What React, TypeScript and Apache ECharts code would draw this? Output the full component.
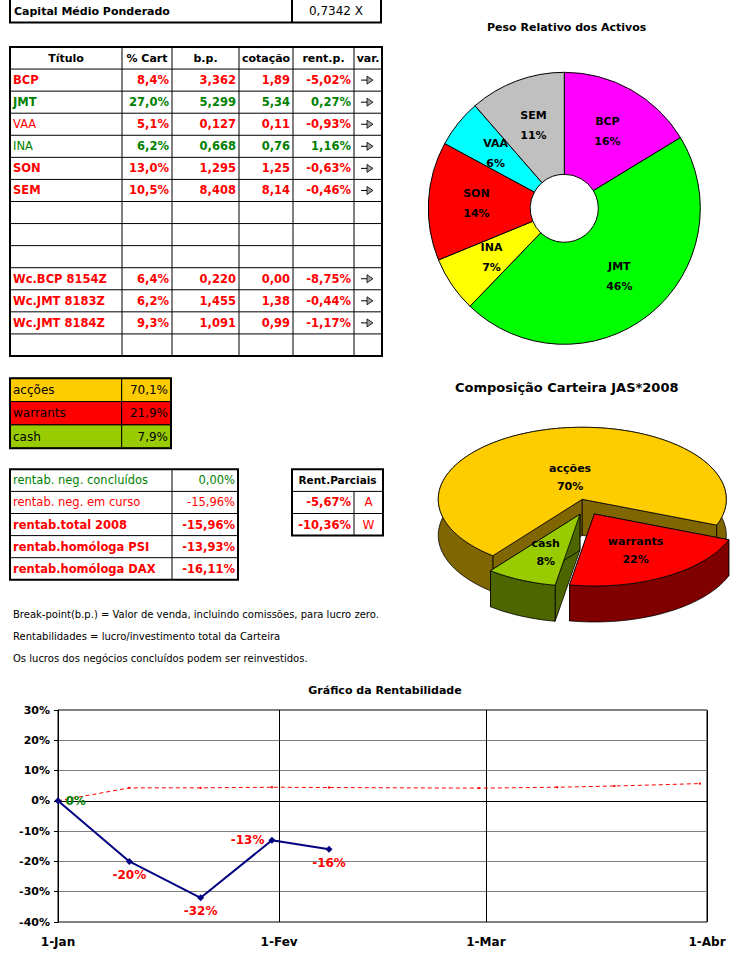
import React, { useEffect, useRef } from 'react';
import * as echarts from 'echarts';

const FONT = "'Comic Sans MS', 'DejaVu Sans', sans-serif";

// ---- Header box ----
const capitalLabel = 'Capital Médio Ponderado';
const capitalValue = '0,7342 X';

// ---- Main table ----
const tableHeaders = ['Título', '% Cart', 'b.p.', 'cotação', 'rent.p.', 'var.'];
const titles = ['BCP', 'JMT', 'VAA', 'INA', 'SON', 'SEM', '', '', '', 'Wc.BCP 8154Z', 'Wc.JMT 8183Z', 'Wc.JMT 8184Z', ''];
const pctCart = [8.4, 27.0, 5.1, 6.2, 13.0, 10.5, null, null, null, 6.4, 6.2, 9.3, null];
const breakPoints = [3.362, 5.299, 0.127, 0.668, 1.295, 8.408, null, null, null, 0.22, 1.455, 1.091, null];
const cotacoes = [1.89, 5.34, 0.11, 0.76, 1.25, 8.14, null, null, null, 0.0, 1.38, 0.99, null];
const rentP = [-5.02, 0.27, -0.93, 1.16, -0.63, -0.46, null, null, null, -8.75, -0.44, -1.17, null];

// ---- Composition ----
const compNames = ['acções', 'warrants', 'cash'];
const compValues = [70.1, 21.9, 7.9];
const compColors = ['#FFCC00', '#FF0000', '#99CC00'];
const compSideColors = ['#806600', '#800000', '#4D6600'];

// ---- Rentab ----
const rentLabels = ['rentab. neg. concluídos', 'rentab. neg. em curso', 'rentab.total 2008', 'rentab.homóloga PSI', 'rentab.homóloga DAX'];
const rentValues = [0.0, -15.96, -15.96, -13.93, -16.11];
const rentBold = [false, false, true, true, true];

const parciaisTitle = 'Rent.Parciais';
const parciaisValues = [-5.67, -10.36];
const parciaisTags = ['A', 'W'];

const notes = [
  'Break-point(b.p.) = Valor de venda, incluindo comissões, para lucro zero.',
  'Rentabilidades = lucro/investimento total da Carteira',
  'Os lucros dos negócios concluídos podem ser reinvestidos.',
];

// ---- Donut ----
const pieNames = ['BCP', 'JMT', 'INA', 'SON', 'VAA', 'SEM'];
const pieValues = [16.3, 45.9, 6.6, 14.1, 5.7, 11.4];
const pieColors = ['#FF00FF', '#00FF00', '#FFFF00', '#FF0000', '#00FFFF', '#C0C0C0'];

// ---- Line chart ----
const rentDates = ['2008-01-01', '2008-01-11', '2008-01-21', '2008-01-31', '2008-02-08'];
const rentSeries = [0, -0.2, -0.32, -0.13, -0.16];
const rentLabelPos = ['right', 'bottom', 'bottom', 'left', 'bottom'];
const benchDates = ['2008-01-01', '2008-01-11', '2008-01-21', '2008-01-31', '2008-02-08', '2008-02-29', '2008-03-11', '2008-03-19', '2008-03-31'];
const benchValues = [0, 0.043, 0.043, 0.045, 0.044, 0.042, 0.045, 0.049, 0.057];
const monthLabels = ['Jan', 'Fev', 'Mar', 'Abr', 'Mai', 'Jun', 'Jul', 'Ago', 'Set', 'Out', 'Nov', 'Dez'];

const fmt = (v: number, d: number) => v.toFixed(d).replace('.', ',');

function txt(x: number, y: number, text: string, fill: string, size: number, bold: boolean, align = 'left') {
  return {
    type: 'text',
    x,
    y,
    silent: true,
    style: { text, fill, fontSize: size, fontWeight: bold ? 'bold' : 'normal', fontFamily: FONT, align, verticalAlign: 'middle' },
  };
}
function rect(x: number, y: number, w: number, h: number, fill: string | null, lw: number) {
  return {
    type: 'rect',
    silent: true,
    shape: { x, y, width: w, height: h },
    style: { fill: fill || 'none', stroke: '#000', lineWidth: lw },
  };
}
function ln(x1: number, y1: number, x2: number, y2: number, lw = 1) {
  return { type: 'line', silent: true, shape: { x1, y1, x2, y2 }, style: { stroke: '#000', lineWidth: lw } };
}
function arrow(cx: number, cy: number) {
  return {
    type: 'group',
    x: cx,
    y: cy,
    silent: true,
    children: [
      { type: 'line', shape: { x1: -6, y1: 0, x2: 0, y2: 0 }, style: { stroke: '#000', lineWidth: 1 } },
      { type: 'polygon', shape: { points: [[0, -4], [6, 0], [0, 4]] }, style: { fill: '#A0A0A0', stroke: '#000', lineWidth: 0.8 } },
    ],
  };
}

function buildGraphics() {
  const g: any[] = [];
  // Capital box
  g.push(rect(10, -2, 371, 24.5, null, 2));
  g.push(ln(292, 0, 292, 22.5, 2));
  g.push(txt(14, 11, capitalLabel, '#000', 11, true));
  g.push(txt(336, 11, capitalValue, '#000', 12, false, 'center'));

  // Main table
  const colX = [10, 122, 172, 239, 293, 354, 382];
  const top = 47;
  const rowH = 22.07;
  const nRows = titles.length + 1;
  for (let c = 1; c < colX.length - 1; c++) g.push(ln(colX[c], top, colX[c], top + nRows * rowH));
  for (let r = 1; r < nRows; r++) g.push(ln(colX[0], top + r * rowH, colX[6], top + r * rowH));
  g.push(rect(colX[0], top, colX[6] - colX[0], nRows * rowH, null, 2));
  tableHeaders.forEach((h, c) => {
    g.push(txt((colX[c] + colX[c + 1]) / 2, top + rowH / 2, h, '#000', 11, true, 'center'));
  });
  titles.forEach((t, r) => {
    const cy = top + (r + 1) * rowH + rowH / 2;
    if (rentP[r] === null) return;
    const col = (rentP[r] as number) >= 0 ? '#008000' : '#FF0000';
    const boldName = !(t === 'VAA' || t === 'INA');
    g.push(txt(colX[0] + 3, cy, t, col, 11.5, boldName));
    g.push(txt(colX[2] - 3, cy, fmt(pctCart[r] as number, 1) + '%', col, 11.5, true, 'right'));
    g.push(txt(colX[3] - 3, cy, fmt(breakPoints[r] as number, 3), col, 11.5, true, 'right'));
    g.push(txt(colX[4] - 3, cy, fmt(cotacoes[r] as number, 2), col, 11.5, true, 'right'));
    g.push(txt(colX[5] - 3, cy, fmt(rentP[r] as number, 2) + '%', col, 11.5, true, 'right'));
    g.push(arrow(367, cy));
  });

  // Composition box
  const cTop = 378.3;
  const cRow = 23.3;
  compNames.forEach((n, i) => {
    g.push(rect(10, cTop + i * cRow, 111.7, cRow, compColors[i], 1));
    g.push(rect(121.7, cTop + i * cRow, 49.3, cRow, compColors[i], 1));
    g.push(txt(13, cTop + i * cRow + cRow / 2, n, '#000', 12, false));
    g.push(txt(168, cTop + i * cRow + cRow / 2, fmt(compValues[i], 1) + '%', '#000', 12, false, 'right'));
  });
  g.push(rect(10, cTop, 161, 3 * cRow, null, 2));

  // Rentab box
  const rTop = 469.3;
  const rRow = 22.1;
  for (let r = 1; r < rentLabels.length; r++) g.push(ln(10, rTop + r * rRow, 238, rTop + r * rRow));
  g.push(ln(172, rTop, 172, rTop + rentLabels.length * rRow));
  g.push(rect(10, rTop, 228, rentLabels.length * rRow, null, 2));
  rentLabels.forEach((l, r) => {
    const cy = rTop + r * rRow + rRow / 2;
    const col = rentValues[r] >= 0 ? '#008000' : '#FF0000';
    g.push(txt(13, cy, l, col, rentBold[r] ? 11.5 : 11.5, rentBold[r]));
    g.push(txt(235, cy, fmt(rentValues[r], 2) + '%', col, 11.5, rentBold[r], 'right'));
  });

  // Parciais box
  const pX0 = 292;
  const pX1 = 354;
  const pX2 = 383;
  for (let r = 1; r < 3; r++) g.push(ln(pX0, rTop + r * rRow, pX2, rTop + r * rRow));
  g.push(ln(pX1, rTop + rRow, pX1, rTop + 3 * rRow));
  g.push(rect(pX0, rTop, pX2 - pX0, 3 * rRow, null, 2));
  g.push(txt((pX0 + pX2) / 2, rTop + rRow / 2, parciaisTitle, '#000', 10.5, true, 'center'));
  parciaisValues.forEach((v, i) => {
    const cy = rTop + (i + 1) * rRow + rRow / 2;
    g.push(txt(pX1 - 3, cy, fmt(v, 2) + '%', '#FF0000', 11.5, true, 'right'));
    g.push(txt((pX1 + pX2) / 2, cy, parciaisTags[i], '#FF0000', 12, false, 'center'));
  });

  // Notes
  notes.forEach((n, i) => g.push(txt(13, 614 + i * 22.3, n, '#000', 10, false)));

  // Titles
  g.push(txt(566.7, 27, 'Peso Relativo dos Activos', '#000', 11, true, 'center'));
  g.push(txt(566.7, 387, 'Composição Carteira JAS*2008', '#000', 13, true, 'center'));
  g.push(txt(385, 690, 'Gráfico da Rentabilidade', '#000', 11, true, 'center'));
  return g;
}

// 3D pie geometry
const P3 = { cx: 586.5, cy: 507, r: 144, k: 0.5, depth: 36, explode: 16, start: 218.4 };

function render3D(params: any, api: any) {
  const i = params.dataIndex;
  const total = compValues.reduce((a, b) => a + b, 0);
  let a1 = P3.start;
  for (let j = 0; j < i; j++) a1 += (compValues[j] / total) * 360;
  const sweep = (api.value(0) / total) * 360;
  const a2 = a1 + sweep;
  const am = (a1 + a2) / 2;
  const rad = (a: number) => (a * Math.PI) / 180;
  const ox = P3.cx + P3.explode * Math.sin(rad(am));
  const oy = P3.cy - P3.explode * Math.cos(rad(am)) * P3.k;
  const pt = (a: number, dy = 0) => [ox + P3.r * Math.sin(rad(a)), oy - P3.r * Math.cos(rad(a)) * P3.k + dy];
  const arc: number[][] = [];
  const steps = Math.max(2, Math.ceil(sweep / 2));
  for (let s = 0; s <= steps; s++) arc.push(pt(a1 + (sweep * s) / steps));
  const lower = arc.map((p) => [p[0], p[1] + P3.depth]).reverse();
  const stroke = { stroke: '#000', lineWidth: 0.8 };
  const side = compSideColors[i];
  const lr = sweep > 180 ? 0.32 : 0.58;
  const lx = ox + P3.r * lr * Math.sin(rad(am));
  const ly = oy - P3.r * lr * Math.cos(rad(am)) * P3.k;
  const pct = Math.round((api.value(0) / total) * 100);
  return {
    type: 'group',
    children: [
      { type: 'polygon', shape: { points: [[ox, oy], pt(a1), pt(a1, P3.depth), [ox, oy + P3.depth]] }, style: { fill: side, ...stroke } },
      { type: 'polygon', shape: { points: [[ox, oy], pt(a2), pt(a2, P3.depth), [ox, oy + P3.depth]] }, style: { fill: side, ...stroke } },
      { type: 'polygon', shape: { points: [...arc, ...lower] }, style: { fill: side, ...stroke } },
      { type: 'polygon', shape: { points: [[ox, oy], ...arc] }, style: { fill: compColors[i], ...stroke } },
      {
        type: 'text',
        x: lx,
        y: ly,
        style: {
          text: compNames[i] + '\n' + pct + '%',
          fill: '#000',
          fontSize: 11,
          fontWeight: 'bold',
          fontFamily: FONT,
          align: 'center',
          verticalAlign: 'middle',
          lineHeight: 18,
        },
      },
    ],
  };
}

export default function App() {
  const ref = useRef<HTMLDivElement>(null);
  useEffect(() => {
    if (!ref.current) return;
    const chart = echarts.init(ref.current, null, { renderer: 'svg' });
    const pct = (v: number) => Math.round(v * 100) + '%';
    chart.setOption({
      animation: false,
      backgroundColor: '#fff',
      textStyle: { fontFamily: FONT },
      graphic: buildGraphics(),
      grid: {
        left: 58,
        top: 710,
        width: 649,
        height: 212,
        show: true,
        borderColor: '#000',
        borderWidth: 1,
        backgroundColor: 'transparent',
      },
      xAxis: {
        type: 'time',
        min: new Date(2008, 0, 1).getTime(),
        max: new Date(2008, 3, 1).getTime(),
        splitNumber: 3,
        axisLine: { lineStyle: { color: '#000', width: 1 } },
        axisTick: { show: true, length: 6, lineStyle: { color: '#000' } },
        axisLabel: {
          formatter: (v: number) => {
            const d = new Date(v);
            return d.getDate() + '-' + monthLabels[d.getMonth()];
          },
          color: '#000',
          fontWeight: 'bold',
          fontSize: 12,
          fontFamily: FONT,
          margin: 14,
          showMinLabel: true,
          showMaxLabel: true,
        },
        splitLine: { show: true, lineStyle: { color: '#000', width: 1 } },
      },
      yAxis: {
        type: 'value',
        min: -0.4,
        max: 0.3,
        interval: 0.1,
        axisLine: { show: true, lineStyle: { color: '#000' } },
        axisTick: { show: true, length: 4, lineStyle: { color: '#000' } },
        axisLabel: { formatter: pct, color: '#000', fontWeight: 'bold', fontSize: 11, fontFamily: FONT, margin: 8 },
        splitLine: { show: true, lineStyle: { color: '#808080', width: 1 } },
      },
      series: [
        {
          type: 'pie',
          center: [564.3, 208.3],
          radius: [34, 136],
          startAngle: 90,
          clockwise: true,
          percentPrecision: 0,
          itemStyle: { borderColor: '#000', borderWidth: 1 },
          label: {
            show: true,
            position: 'inside',
            formatter: '{b}\n{d}%',
            color: '#000',
            fontSize: 11,
            fontWeight: 'bold',
            fontFamily: FONT,
            lineHeight: 20,
          },
          emphasis: { disabled: true },
          data: pieNames.map((n, i) => ({ name: n, value: pieValues[i], itemStyle: { color: pieColors[i] } })),
        },
        {
          type: 'custom',
          coordinateSystem: 'none',
          renderItem: render3D,
          data: compValues.map((v, i) => ({ name: compNames[i], value: [v] })),
        },
        {
          type: 'line',
          name: 'bench',
          data: benchDates.map((d, i) => [d, benchValues[i]]),
          symbol: 'rect',
          symbolSize: 2,
          lineStyle: { color: '#FF0000', width: 1, type: [4, 3] },
          itemStyle: { color: '#FF0000' },
          z: 3,
        },
        {
          type: 'line',
          name: 'rent',
          data: rentDates.map((d, i) => ({
            value: [d, rentSeries[i]],
            label: {
              show: true,
              position: rentLabelPos[i],
              distance: 4,
              formatter: () => pct(rentSeries[i]),
              color: rentSeries[i] >= 0 ? '#008000' : '#FF0000',
              fontWeight: 'bold',
              fontSize: 12,
              fontFamily: FONT,
            },
          })),
          symbol: 'diamond',
          symbolSize: 7,
          lineStyle: { color: '#000080', width: 2 },
          itemStyle: { color: '#000080' },
          z: 4,
        },
      ],
    });
    return () => chart.dispose();
  }, []);
  return <div ref={ref} style={{ position: 'absolute', left: 0, top: 0, width: 749, height: 968 }} />;
}
